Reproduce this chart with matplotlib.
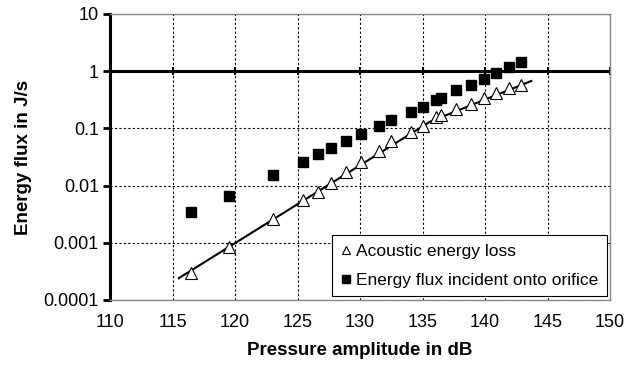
import numpy as np
import matplotlib.pyplot as plt
from matplotlib.ticker import FixedLocator, FuncFormatter, NullLocator

plt.rcParams['font.family'] = ['Liberation Sans', 'DejaVu Sans']

spl = [116.5, 119.5, 123.0, 125.4, 126.6, 127.7, 128.9, 130.1, 131.5, 132.5,
       134.1, 135.0, 136.1, 136.5, 137.7, 138.9, 139.9, 140.9, 141.9, 142.9]
acoustic_loss = [0.0003, 0.00085, 0.0026, 0.0056, 0.0078, 0.011, 0.017, 0.026, 0.041, 0.059,
                 0.087, 0.11, 0.155, 0.17, 0.22, 0.27, 0.34, 0.41, 0.50, 0.57]
incident_flux = [0.0034, 0.0066, 0.0155, 0.026, 0.035, 0.046, 0.060, 0.079, 0.11, 0.14,
                 0.195, 0.24, 0.31, 0.34, 0.46, 0.57, 0.73, 0.93, 1.17, 1.45]

# fitted curve (two straight pieces on the log scale)
fit_spl = [115.5, 135.6, 143.7]
fit_flux = [0.00024, 0.131, 0.674]

xticks = [110, 115, 120, 125, 130, 135, 140, 145, 150]
yticks = [0.0001, 0.001, 0.01, 0.1, 1, 10]

fig = plt.figure(figsize=(6.33, 3.68), dpi=100)
ax = fig.add_axes([0.1738, 0.185, 0.79, 0.777])

ax.set_yscale('log')
ax.set_xlim(110, 150)
ax.set_ylim(0.0001, 10)

ax.grid(True, which='major', color='black', linestyle=(0, (2, 2)), linewidth=0.8)
ax.set_axisbelow(True)

ax.plot(fit_spl, fit_flux, color='black', lw=1.5, zorder=3)
ax.plot(spl, acoustic_loss, linestyle='none', marker='^', markersize=8,
        markerfacecolor='white', markeredgecolor='black', markeredgewidth=0.8,
        label='Acoustic energy loss', zorder=4)
ax.plot(spl, incident_flux, linestyle='none', marker='s', markersize=7,
        color='black', label='Energy flux incident onto orifice', zorder=4)

ax.axhline(1, color='black', lw=2.2, zorder=2)

ax.xaxis.set_major_locator(FixedLocator(xticks))
ax.yaxis.set_major_locator(FixedLocator(yticks))
ax.yaxis.set_minor_locator(NullLocator())
ax.yaxis.set_major_formatter(FuncFormatter(lambda v, p: '%g' % v))
ax.tick_params(axis='x', length=0, labelsize=13, pad=10)
ax.tick_params(axis='y', length=5, width=2, labelsize=13, pad=3)

# tick marks sit on the horizontal axis that crosses at 1
sec = ax.secondary_xaxis(0.8)
sec.xaxis.set_major_locator(FixedLocator(xticks))
sec.tick_params(direction='inout', length=6, width=1.5, labelbottom=False, labeltop=False)
sec.spines['top'].set_visible(False)
sec.spines['bottom'].set_visible(False)

ax.spines['left'].set_linewidth(2.2)
for s in ['top', 'right', 'bottom']:
    ax.spines[s].set_color('#888888')
    ax.spines[s].set_linewidth(1)

ax.set_xlabel('Pressure amplitude in dB', fontsize=13.5, fontweight='bold', labelpad=8)
ax.set_ylabel('Energy flux in J/s', fontsize=13.5, fontweight='bold', labelpad=8)

leg = ax.legend(loc='lower right', bbox_to_anchor=(0.994, 0.012), fontsize=12.5,
                frameon=True, fancybox=False, edgecolor='black', framealpha=1,
                handlelength=0.6, handletextpad=0.3, borderpad=0.5, labelspacing=0.8,
                borderaxespad=0, markerscale=0.8)
leg.get_frame().set_linewidth(0.8)
leg.set_zorder(5)

fig.savefig('out.png', dpi=100)
